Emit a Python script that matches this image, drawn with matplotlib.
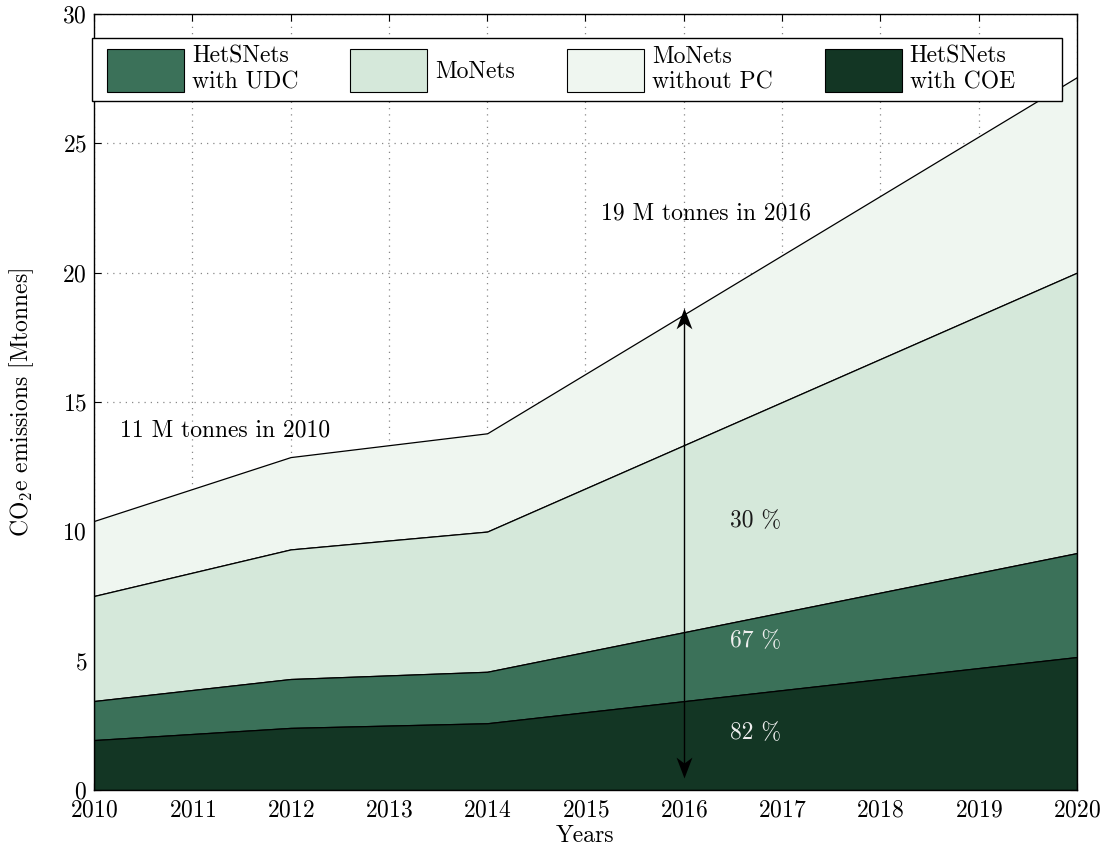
import matplotlib
matplotlib.use("Agg")
import matplotlib.pyplot as plt
from matplotlib.patches import Patch, Rectangle
from matplotlib.path import Path

plt.rcParams["font.family"] = "serif"
plt.rcParams["font.serif"] = ["cmr10"]
plt.rcParams["mathtext.fontset"] = "cm"
plt.rcParams["axes.formatter.use_mathtext"] = True

# Total emissions (top of each stacked layer), Mtonnes
years = [2010, 2012, 2014, 2020]
coe = [1.93, 2.40, 2.58, 5.14]
udc = [3.44, 4.29, 4.57, 9.16]
monets = [7.50, 9.30, 9.99, 20.0]
monets_no_pc = [10.40, 12.87, 13.79, 27.56]

labels = ["HetSNets\nwith UDC", "MoNets", "MoNets\nwithout PC", "HetSNets\nwith COE"]
colors = {"udc": "#3b7159", "monets": "#d5e8da", "nopc": "#eff6f0", "coe": "#133624"}

xticks = list(range(2010, 2021))
yticks = [0, 5, 10, 15, 20, 25, 30]

arrow_year = 2016
arrow_low, arrow_high = 0.45, 18.65

FS = 17

fig = plt.figure(figsize=(11.07, 8.47), dpi=100)
ax = fig.add_axes([0.0849, 0.0673, 0.8880, 0.9162])

zero = [0] * len(years)
ax.fill_between(years, monets, monets_no_pc, facecolor=colors["nopc"], edgecolor="black", lw=0.9)
ax.fill_between(years, udc, monets, facecolor=colors["monets"], edgecolor="black", lw=0.9)
ax.fill_between(years, coe, udc, facecolor=colors["udc"], edgecolor="black", lw=0.9)
ax.fill_between(years, zero, coe, facecolor=colors["coe"], edgecolor="black", lw=0.9)

ax.set_xlim(2010, 2020)
ax.set_ylim(0, 30)
ax.set_xticks(xticks)
ax.set_yticks(yticks)
ax.tick_params(direction="in", top=True, right=True, length=5, labelsize=FS, pad=5)
ax.tick_params(axis="x", pad=7)
ax.set_axisbelow(True)
ax.grid(True, linestyle=(0, (1, 4)), color="#888888", lw=0.9)
for s in ax.spines.values():
    s.set_linewidth(1.0)

ax.set_xlabel("Years", fontsize=FS, labelpad=2)
ax.set_ylabel(r"CO$_2$e emissions [Mtonnes]", fontsize=FS, labelpad=19)

# 2016 double arrow spanning the stack, with stealth-shaped heads
up_head = Path([(0, 0), (-0.38, -1), (0, -0.72), (0.38, -1), (0, 0)],
               [Path.MOVETO, Path.LINETO, Path.LINETO, Path.LINETO, Path.CLOSEPOLY])
down_head = Path([(0, 0), (-0.38, 1), (0, 0.72), (0.38, 1), (0, 0)],
                 [Path.MOVETO, Path.LINETO, Path.LINETO, Path.LINETO, Path.CLOSEPOLY])
ax.plot([arrow_year, arrow_year], [arrow_low + 0.4, arrow_high - 0.4], color="black", lw=1.0, zorder=4)
ax.plot([arrow_year], [arrow_high], marker=up_head, markersize=30, color="black", mew=0, zorder=4)
ax.plot([arrow_year], [arrow_low], marker=down_head, markersize=30, color="black", mew=0, zorder=4)

ax.text(2010.26, 13.9, "11 M tonnes in 2010", fontsize=FS, va="center", ha="left")
ax.text(2015.16, 22.27, "19 M tonnes in 2016", fontsize=FS, va="center", ha="left")
ax.text(2016.47, 10.4, r"30 %", fontsize=FS, va="center", ha="left", color="#1a1a1a")
ax.text(2016.47, 5.76, r"67 %", fontsize=FS, va="center", ha="left", color="#eeeeee")
ax.text(2016.47, 2.2, r"82 %", fontsize=FS, va="center", ha="left", color="#eeeeee")

# legend frame drawn as a plain box across the top of the axes
frame = Rectangle((-0.002, 0.8883), 0.9867, 0.0804, transform=ax.transAxes,
                  facecolor="white", edgecolor="black", lw=1.0, zorder=6, clip_on=False)
ax.add_patch(frame)

handles = [Patch(facecolor=colors["udc"], edgecolor="black", lw=0.8),
           Patch(facecolor=colors["monets"], edgecolor="black", lw=0.8),
           Patch(facecolor=colors["nopc"], edgecolor="black", lw=0.8),
           Patch(facecolor=colors["coe"], edgecolor="black", lw=0.8)]
leg = ax.legend(handles, labels, ncol=4, loc="center left",
                bbox_to_anchor=(0.0132, 0.9285), frameon=False,
                fontsize=FS, handlelength=3.26, handleheight=2.43, handletextpad=0.34,
                columnspacing=2.2, borderpad=0, borderaxespad=0, labelspacing=0.2)
leg.set_zorder(7)

fig.savefig("out.png", dpi=100)
